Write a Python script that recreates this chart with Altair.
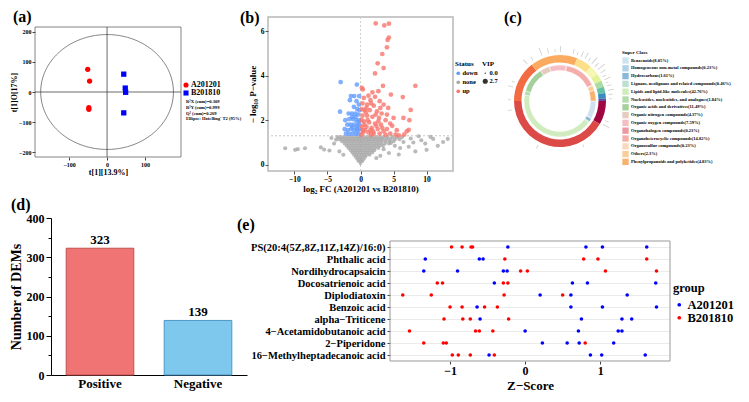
import json
import altair as alt
import pandas as pd

F = "Liberation Serif"

# ---------------- (a) OPLS-DA score plot ----------------
a_t1 = [-51, -46, -48, -48, 44, 48, 49, 44]
a_to1 = [75, 36, -52, -57, 59, 13, -1, -69]
a_group = ["A201201", "A201201", "A201201", "A201201",
           "B201810", "B201810", "B201810", "B201810"]
a_ell_rx, a_ell_ry = 175, 190
a_stats = "R²X (cum)=0.309\nR²Y (cum)=0.999\nQ² (cum)=0.269\nEllipse: Hotelling' T2 (95%)"
a_xdom = [-190, 195]
a_ydom = [-215, 215]

# ---------------- (b) volcano plot ----------------
up_pts = [(2.3, 6.34), (3.6, 6.25), (4.3, 6.33), (4.3, 5.71), (4.1, 5.6), (4.0, 5.27), (3.3, 4.97),
          (2.6, 4.55), (3.5, 4.34), (2.2, 4.1), (8.3, 3.54), (3.4, 3.54), (0.2, 3.45), (0.35, 3.38),
          (1.8, 3.25), (2.7, 3.3), (1.2, 3.1), (2.2, 3.05), (4.6, 3.15), (6.4, 3.04), (0.5, 3.0),
          (1.5, 2.9), (2.9, 2.85), (3.5, 2.7), (0.3, 2.75), (1.0, 2.7), (2.0, 2.65), (4.2, 2.55),
          (7.6, 2.46), (0.6, 2.45), (1.4, 2.45), (2.5, 2.4), (3.2, 2.3), (5.0, 2.1), (6.5, 2.1),
          (7.4, 2.0), (0.3, 2.2), (1.0, 2.2), (1.8, 2.15), (2.8, 2.1), (3.8, 2.0), (4.5, 1.85),
          (0.5, 1.95), (1.3, 1.9), (2.2, 1.85), (3.1, 1.8), (4.0, 1.6), (0.2, 1.7), (0.9, 1.7),
          (1.7, 1.65), (2.6, 1.6), (3.5, 1.5), (7.0, 1.5), (7.3, 1.57), (0.4, 1.45), (1.2, 1.45),
          (2.0, 1.4), (2.9, 1.4), (4.5, 1.4), (5.3, 1.35), (5.8, 1.32), (6.6, 1.35), (0.1, 1.35),
          (1.6, 1.35), (3.8, 1.35), (0.7, 1.55), (1.5, 1.55), (2.4, 1.75), (0.15, 2.0), (0.8, 2.35),
          (1.6, 2.75), (0.2, 2.5), (2.3, 2.25), (4.8, 1.75), (5.5, 1.55), (4.0, 2.25), (3.0, 2.55),
          (0.6, 1.8), (1.1, 2.0), (2.7, 1.95), (0.35, 1.55), (1.9, 1.5), (3.3, 1.65), (0.9, 2.55)]
down_pts = [(-3.0, 3.71), (-0.55, 3.6), (-1.45, 3.08), (-0.95, 3.08), (-0.2, 3.08), (-3.1, 2.38),
            (-1.6, 2.9), (-0.6, 2.85), (-0.25, 2.7), (-1.0, 2.6), (-0.5, 2.5), (-0.15, 2.45),
            (-1.8, 2.3), (-1.3, 2.3), (-0.8, 2.3), (-0.35, 2.25), (-2.3, 2.0), (-1.7, 2.05),
            (-1.15, 2.05), (-0.65, 2.0), (-0.2, 2.0), (-2.0, 1.8), (-1.5, 1.8), (-1.0, 1.8),
            (-0.5, 1.75), (-0.15, 1.8), (-2.4, 1.6), (-1.9, 1.55), (-1.4, 1.6), (-0.9, 1.55),
            (-0.45, 1.55), (-0.1, 1.6), (-2.2, 1.4), (-1.7, 1.38), (-1.2, 1.4), (-0.7, 1.38),
            (-0.3, 1.4), (-1.25, 2.15), (-0.75, 2.15), (-0.4, 1.9), (-1.25, 1.7), (-0.6, 1.65)]
sig_vip = 2.3
none_rows = [  # (y, vip, x positions)
    (0.05, 0.9, [0.0]),
    (0.15, 1.0, [-0.3, 0.0, 0.3]),
    (0.25, 1.1, [-0.5, -0.17, 0.17, 0.5]),
    (0.35, 1.2, [-0.75, -0.4, 0.0, 0.4, 0.75]),
    (0.45, 1.3, [-1.0, -0.6, -0.2, 0.2, 0.6, 1.0, 1.4]),
    (0.55, 1.35, [-1.25, -0.85, -0.45, 0.0, 0.45, 0.9, 1.35, 1.8]),
    (0.65, 1.4, [-1.5, -1.05, -0.6, -0.15, 0.3, 0.75, 1.2, 1.65, 2.1]),
    (0.75, 1.45, [-1.8, -1.3, -0.8, -0.3, 0.2, 0.7, 1.2, 1.7, 2.2, 2.7]),
    (0.85, 1.5, [-2.1, -1.6, -1.1, -0.6, -0.1, 0.4, 0.9, 1.4, 1.9, 2.4, 2.9, 3.4]),
    (0.95, 1.5, [-2.4, -1.9, -1.4, -0.9, -0.4, 0.1, 0.6, 1.1, 1.6, 2.1, 2.6, 3.1, 3.7, 4.3]),
    (1.05, 1.55, [-2.8, -2.3, -1.8, -1.3, -0.8, -0.3, 0.2, 0.7, 1.2, 1.7, 2.2, 2.7, 3.2, 3.8,
                  4.4, 5.0]),
    (1.15, 1.6, [-3.2, -2.7, -2.2, -1.7, -1.2, -0.7, -0.2, 0.3, 0.8, 1.3, 1.8, 2.3, 2.8, 3.3,
                 3.9, 4.5, 5.2, 5.9]),
    (1.24, 1.6, [-3.5, -3.0, -2.5, -2.0, -1.5, -1.0, -0.5, 0.0, 0.5, 1.0, 1.5, 2.0, 2.5, 3.0,
                 3.5, 4.1, 4.8, 5.5, 6.3]),
]
none_far = [(-11.4, 0.74), (-9.9, 0.67), (-9.5, 0.7), (-8.4, 0.74), (-6.0, 0.78), (-5.5, 0.68),
            (-4.7, 0.64), (-4.0, 0.95), (-3.7, 1.12), (-4.4, 1.2), (13.2, 1.16), (12.5, 1.02),
            (11.0, 1.16), (9.8, 0.95), (8.8, 1.28), (10.0, 0.67), (8.3, 0.6), (7.3, 0.81),
            (5.8, 0.46), (4.3, 0.53), (6.5, 1.02), (7.6, 1.18), (9.2, 1.1), (11.7, 0.85),
            (10.6, 1.25), (6.0, 0.75), (8.0, 1.0), (5.2, 0.85), (4.6, 0.98), (3.5, 0.7),
            (-3.2, 0.6), (-2.6, 0.45), (3.0, 0.4), (2.4, 0.3)]
far_vip = 1.7
p_cut = 1.3

# ---------------- (c) super class donut ----------------
c_classes = ["Benzenoids", "Homogeneous non-metal compounds", "Hydrocarbons",
             "Lignans, neolignans and related compounds", "Lipids and lipid-like molecules",
             "Nucleosides, nucleotides, and analogues", "Organic acids and derivatives",
             "Organic nitrogen compounds", "Organic oxygen compounds", "Organohalogen compounds",
             "Organoheterocyclic compounds", "Organosulfur compounds", "Others",
             "Phenylpropanoids and polyketides"]
c_pct = [8.05, 0.23, 1.61, 0.46, 42.76, 1.84, 11.49, 4.37, 7.59, 0.23, 14.82, 0.23, 2.3, 4.83]
c_colors = ["#c9e0ee", "#a6cde3", "#7db0d4", "#b5dcc9", "#cbe9b6", "#aad8a3", "#9bcb91",
            "#e3c5b8", "#f3b8be", "#ea8f96", "#f2a5a1", "#f8d5b7", "#f8c690", "#f6aa60"]
c_outer_vals = [30, 150, 52, 60, 20, 12, 10, 8, 8, 7, 3]
c_outer_cols = ["#a0063f", "#dc4a48", "#f26b43", "#fbab5f", "#fddf8a", "#f7f7b4", "#e4f29a",
                "#abdca4", "#66c2a5", "#3a8bbf", "#5e4fa2"]
c_tick_ang = [0, 354, 346, 338, 326, 318, 292, 286, 271, 259, 206, 152, 113, 118, 15, 20, 25,
              30, 35, 40, 45, 50, 55, 60, 64, 68, 72, 77, 82, 87]
c_tick_len = [6, 3, 5, 8, 4, 6, 3, 5, 3, 4, 4, 3, 4, 7, 5, 3, 6, 7, 4, 8, 5, 9, 6, 4, 7, 3, 5, 6, 4, 3]

# ---------------- (d) DEM counts ----------------
d_cat = ["Positive", "Negative"]
d_val = [323, 139]
d_fill = ["#f07474", "#7ec8ee"]
d_stroke = ["#c0504d", "#4f96c6"]

# ---------------- (e) Z-score dot plot ----------------
e_names = ["PS(20:4(5Z,8Z,11Z,14Z)/16:0)", "Phthalic acid", "Nordihydrocapsaicin",
           "Docosatrienoic acid", "Diplodiatoxin", "Benzoic acid", "alpha−Triticene",
           "4−Acetamidobutanoic acid", "2−Piperidone", "16−Methylheptadecanoic acid"]
e_A = [[-0.23, 0.81, 1.03, 1.62], [-1.33, -0.61, -0.56], [-1.35, -0.90, -0.29, -0.24],
       [-0.41, 0.63, 0.83, 1.74], [0.20, 0.61, 1.36], [-0.64, 0.61, 1.03, 1.75],
       [-0.60, 0.75, 1.29, 1.42], [0.0, 0.71, 1.24, 1.29], [0.23, 0.56, 0.72, 1.18],
       [-0.48, 0.87, 1.02, 1.60]]
e_B = [[-0.98, -0.84, -0.72, -0.70], [-0.27, 0.78, 0.97, 1.62], [-0.06, 0.03, 1.07, 1.75],
       [-1.17, -1.10, -0.29, -0.23], [-1.63, -1.25, -0.28, 0.50], [-1.0, -0.84, -0.54, -0.37],
       [-1.08, -0.83, -0.73, -0.22], [-1.54, -0.66, -0.61, -0.43], [-1.35, -1.09, -1.05, 0.80],
       [-0.97, -0.89, -0.73, -0.41]]
e_xdom = [-1.8, 1.93]


def label(txt, x, y, size=16):
    return alt.Chart(pd.DataFrame({"t": [txt]})).mark_text(
        align="left", baseline="alphabetic", font=F, fontWeight="bold", fontSize=size, color="black"
    ).encode(text="t:N", x=alt.value(x), y=alt.value(y))


# ======== panel (a) ========
AW, AH = 146, 140
ax_s = alt.Scale(domain=a_xdom, nice=False, zero=False)
ay_s = alt.Scale(domain=a_ydom, nice=False, zero=False, range=[AH, 10])
ax_a = alt.Axis(title="t[1][13.9%]", values=[-100, 0, 100], labelFontSize=6, titleFontSize=8,
                tickSize=3, domain=False, labelPadding=1, titlePadding=1, tickColor="#444")
ay_a = alt.Axis(title="t[1]O[17%]", values=[-200, -100, 0, 100, 200], labelFontSize=6,
                titleFontSize=8, tickSize=3, domain=False, labelPadding=1, titlePadding=0,
                tickColor="#444")

frame_a = alt.Chart(pd.DataFrame({"x0": [a_xdom[0]], "x1": [a_xdom[1]],
                                  "y0": [a_ydom[0]], "y1": [a_ydom[1]]})).mark_rect(
    fillOpacity=0, stroke="#666", strokeWidth=0.8).encode(
    x=alt.X("x0:Q", scale=ax_s, axis=ax_a), x2="x1:Q",
    y=alt.Y("y0:Q", scale=ay_s, axis=ay_a), y2="y1:Q")
vline_a = alt.Chart(pd.DataFrame({"x": [0], "y0": [a_ydom[0]], "y1": [a_ydom[1]]})).mark_rule(
    color="#444", strokeWidth=0.8).encode(
    x=alt.X("x:Q", scale=ax_s, axis=ax_a), y=alt.Y("y0:Q", scale=ay_s, axis=ay_a), y2="y1:Q")
hline_a = alt.Chart(pd.DataFrame({"y": [0], "x0": [a_xdom[0]], "x1": [a_xdom[1]]})).mark_rule(
    color="#444", strokeWidth=0.8).encode(
    y=alt.Y("y:Q", scale=ay_s, axis=ay_a), x=alt.X("x0:Q", scale=ax_s, axis=ax_a), x2="x1:Q")
ell_a = alt.Chart(alt.sequence(0, 362, 2, as_="deg")).transform_calculate(
    ex=f"{a_ell_rx}*cos(datum.deg*PI/180)", ey=f"{a_ell_ry}*sin(datum.deg*PI/180)"
).mark_line(color="#666", strokeWidth=0.8).encode(
    x=alt.X("ex:Q", scale=ax_s, axis=ax_a), y=alt.Y("ey:Q", scale=ay_s, axis=ay_a),
    order="deg:Q")
leg_a = alt.Legend(title=None, orient="none", legendX=AW + 1, legendY=64, labelFontSize=8,
                   symbolSize=26, rowPadding=0, labelOffset=1, symbolStrokeWidth=0)
pts_a = alt.Chart(pd.DataFrame({"t1": a_t1, "to1": a_to1, "group": a_group})).mark_point(
    filled=True, size=28, opacity=1).encode(
    x=alt.X("t1:Q", scale=ax_s, axis=ax_a), y=alt.Y("to1:Q", scale=ay_s, axis=ay_a),
    color=alt.Color("group:N", scale=alt.Scale(domain=["A201201", "B201810"],
                                               range=["#ff0000", "#0000ff"]), legend=leg_a),
    shape=alt.Shape("group:N", scale=alt.Scale(domain=["A201201", "B201810"],
                                               range=["circle", "square"]), legend=leg_a))
ann_a = alt.Chart(pd.DataFrame({"t": [a_stats]})).mark_text(
    align="left", baseline="middle", font=F, fontWeight="bold", fontSize=4.6, lineHeight=5.8,
    lineBreak="\n", color="black").encode(text="t:N", x=alt.value(AW + 5), y=alt.value(85))
panel_a = alt.layer(frame_a, ell_a, vline_a, hline_a, pts_a, ann_a, label("(a)", -22, 5)).properties(
    width=AW, height=AH)

# ======== panel (b) ========
BW, BH = 185, 154
rows_b = []
for yv, vip, xs in none_rows:
    for xv in xs:
        rows_b.append({"fc": xv, "p": yv, "vip": vip, "status": "none"})
for xv, yv in none_far:
    rows_b.append({"fc": xv, "p": yv, "vip": far_vip, "status": "none"})
for xv, yv in down_pts:
    rows_b.append({"fc": xv, "p": yv, "vip": sig_vip, "status": "down"})
for xv, yv in up_pts:
    rows_b.append({"fc": xv, "p": yv, "vip": sig_vip, "status": "up"})
dfb = pd.DataFrame(rows_b)
bx_s = alt.Scale(domain=[-14, 14], nice=False, zero=False)
by_s = alt.Scale(domain=[-0.28, 6.63], nice=False, zero=False)
bx_a = alt.Axis(title="log₂ FC (A201201 vs B201810)", values=[-10, -5, 0, 5, 10], labelFontSize=7.5,
                titleFontSize=9, tickSize=3, tickColor="#555", domain=False, labelPadding=1,
                titlePadding=2)
by_a = alt.Axis(title="− log₁₀ P−value", values=[0, 2, 4, 6], labelFontSize=7.5, titleFontSize=9,
                tickSize=3, tickColor="#555", domain=False, labelPadding=1, titlePadding=3)
hr_b = alt.Chart(pd.DataFrame({"y": [p_cut]})).mark_rule(
    color="#c8c8c8", strokeDash=[2, 2], strokeWidth=1).encode(y=alt.Y("y:Q", scale=by_s, axis=by_a))
vr_b = alt.Chart(pd.DataFrame({"x": [0]})).mark_rule(
    color="#d0d0d0", strokeDash=[2, 2], strokeWidth=1).encode(x=alt.X("x:Q", scale=bx_s, axis=bx_a))
pts_b = alt.Chart(dfb).mark_circle(opacity=0.8).encode(
    x=alt.X("fc:Q", scale=bx_s, axis=bx_a), y=alt.Y("p:Q", scale=by_s, axis=by_a),
    color=alt.Color("status:N", scale=alt.Scale(domain=["down", "none", "up"],
                                                range=["#619cff", "#a9a9a9", "#f8766d"]),
                    legend=alt.Legend(title="Status", orient="none", legendX=BW + 2, legendY=43,
                                      titleFontSize=7, labelFontSize=6.5, symbolSize=14,
                                      symbolType="circle", rowPadding=2, titlePadding=3,
                                      labelOffset=1, symbolOpacity=1)),
    size=alt.Size("vip:Q", scale=alt.Scale(domain=[0, 2.7], range=[2, 26]),
                  legend=alt.Legend(title="VIP", orient="none", legendX=BW + 29, legendY=43,
                                    values=[0, 2.7], format=".1f", titleFontSize=7,
                                    labelFontSize=6.5, symbolFillColor="black",
                                    symbolStrokeWidth=0, rowPadding=1, titlePadding=3,
                                    labelOffset=1)))
panel_b = alt.layer(hr_b, vr_b, pts_b, label("(b)", -28, 6)).properties(
    width=BW, height=BH, view=alt.ViewBackground(stroke="#b8b8b8", strokeWidth=1.5))

# ======== panel (c) ========
CW, CH = 76, 154
CX, CY = 20, 84
c_labels = [f"{n}({p:g}%)" for n, p in zip(c_classes, c_pct)]
dfc = pd.DataFrame({"cls": c_labels, "pct": c_pct, "ord": list(range(len(c_pct)))})
inner_c = alt.Chart(dfc).mark_arc(radius=36, radius2=30.5, stroke="white", strokeWidth=0.5,
                                  opacity=0.9).encode(
    theta=alt.Theta("pct:Q", stack=True, scale=alt.Scale(range=[1.5708, 7.854], nice=False)),
    color=alt.Color("cls:N", scale=alt.Scale(domain=c_labels, range=c_colors),
                    legend=alt.Legend(title="Super Class", orient="none", legendX=82, legendY=33,
                                      titleFontSize=5, labelFontSize=4.5, symbolType="square",
                                      symbolSize=40, rowPadding=0.8, titlePadding=2,
                                      labelOffset=2, symbolStrokeWidth=0, labelLimit=0)),
    order=alt.Order("ord:Q"), x=alt.value(CX), y=alt.value(CY))
dfo = pd.DataFrame({"v": c_outer_vals, "col": c_outer_cols, "ord": list(range(len(c_outer_vals)))})
outer_c = alt.Chart(dfo).mark_arc(radius=46, radius2=38.5).encode(
    theta=alt.Theta("v:Q", stack=True, scale=alt.Scale(range=[1.5708, 7.854], nice=False)),
    fill=alt.Fill("col:N", scale=None, legend=None), order=alt.Order("ord:Q"),
    x=alt.value(CX), y=alt.value(CY))
dft = pd.DataFrame({"a": c_tick_ang, "len": c_tick_len})
ticks_c = alt.Chart(dft).transform_calculate(a2="datum.a + 0.9").mark_arc(color="#cfcfcf").encode(
    theta=alt.Theta("a:Q", scale=alt.Scale(domain=[0, 360], range=[0, 6.2832])),
    theta2="a2:Q",
    radius=alt.Radius("len:Q", scale=alt.Scale(type="linear", domain=[0, 12], range=[49, 61],
                                                zero=False)),
    radius2=alt.value(49), x=alt.value(CX), y=alt.value(CY))
panel_c = alt.layer(ticks_c, outer_c, inner_c, label("(c)", -36, 6)).resolve_scale(
    theta="independent", color="independent").properties(width=CW, height=CH)

# ======== panel (d) ========
DOFF = 16
DW, DH = 196 + DOFF, 157
dfd = pd.DataFrame({"cat": d_cat, "n": d_val})
dx = alt.X("cat:N", sort=d_cat,
           scale=alt.Scale(paddingInner=0.31, paddingOuter=0.155, range=[DOFF, DW]),
           axis=alt.Axis(title=None, labelAngle=0, labelFontSize=13, ticks=False,
                         domainColor="black", domainWidth=1, labelPadding=2))
dy = alt.Y("n:Q", scale=alt.Scale(domain=[0, 400], nice=False),
           axis=alt.Axis(title="Number of DEMs", values=list(range(0, 401, 50)),
                         labelExpr="datum.value % 100 === 0 ? datum.label : ''",
                         tickSize={"condition": {"test": "datum.value % 100 === 0", "value": 5},
                                   "value": 3},
                         labelFontSize=12, titleFontSize=14, domainColor="black", domainWidth=1,
                         tickColor="black", labelPadding=2, titlePadding=3, offset=-DOFF))
bars_d = alt.Chart(dfd).mark_bar(strokeWidth=1).encode(
    x=dx, y=dy,
    color=alt.Color("cat:N", scale=alt.Scale(domain=d_cat, range=d_fill), legend=None),
    stroke=alt.Stroke("cat:N", scale=alt.Scale(domain=d_cat, range=d_stroke), legend=None))
txt_d = alt.Chart(dfd).mark_text(baseline="bottom", dy=-1, font=F, fontWeight="bold",
                                 fontSize=13, color="black").encode(x=dx, y=dy, text="n:Q")
panel_d = alt.layer(bars_d, txt_d, label("(d)", DOFF - 40, -8)).properties(width=DW, height=DH)

# ======== panel (e) ========
EW, EH = 280, 143
rows_e = []
for i, name in enumerate(e_names):
    idx = len(e_names) - i
    for v in e_A[i]:
        rows_e.append({"idx": idx, "z": v, "group": "A201201"})
    for v in e_B[i]:
        rows_e.append({"idx": idx, "z": v, "group": "B201810"})
dfe = pd.DataFrame(rows_e)
names_bt = list(reversed(e_names))
ex_s = alt.Scale(domain=e_xdom, nice=False, zero=False)
ey_s = alt.Scale(domain=[0.5, 10.5], nice=False, zero=False, range=[EH, 23])
ex_a = alt.Axis(title="Z−Score", values=[-1, 0, 1], labelFontSize=12, titleFontSize=13, tickSize=3,
                tickColor="#444", domain=False, labelPadding=1, titlePadding=3)
ey_a = alt.Axis(title=None, values=list(range(1, 11)),
                labelExpr=json.dumps(names_bt, ensure_ascii=False) + "[datum.value - 1]",
                grid=True, gridColor="#e6e6e6", gridWidth=0.8, tickSize=3, tickColor="#444",
                domain=False, labelFontSize=10.5, labelPadding=2, labelLimit=0)
frame_e = alt.Chart(pd.DataFrame({"x0": [e_xdom[0]], "x1": [e_xdom[1]], "y0": [0.5],
                                  "y1": [10.5]})).mark_rect(
    fillOpacity=0, stroke="#999", strokeWidth=1).encode(
    x=alt.X("x0:Q", scale=ex_s, axis=ex_a), x2="x1:Q",
    y=alt.Y("y0:Q", scale=ey_s, axis=ey_a), y2="y1:Q")
pts_e = alt.Chart(dfe).mark_circle(size=13, opacity=1).encode(
    x=alt.X("z:Q", scale=ex_s, axis=ex_a), y=alt.Y("idx:Q", scale=ey_s, axis=ey_a),
    color=alt.Color("group:N", scale=alt.Scale(domain=["A201201", "B201810"],
                                               range=["#0000ff", "#ff0000"]),
                    legend=alt.Legend(title="group", orient="none", legendX=EW + 3, legendY=64,
                                      titleFontSize=12.5, labelFontSize=12.5, symbolSize=14,
                                      symbolType="circle", rowPadding=0, titlePadding=4,
                                      labelOffset=2)))
panel_e = alt.layer(frame_e, pts_e, label("(e)", -153, 12)).properties(width=EW, height=EH)

IND = dict(color="independent", shape="independent", size="independent",
           stroke="independent", fill="independent")
LIND = dict(color="independent", shape="independent", size="independent")
top = alt.HConcatChart(hconcat=[panel_a, panel_b, panel_c], spacing=87, bounds="flush"
                       ).resolve_scale(**IND).resolve_legend(**LIND)
bottom = alt.HConcatChart(hconcat=[panel_d, panel_e], spacing=143, bounds="flush"
                          ).resolve_scale(**IND).resolve_legend(**LIND)

chart = alt.ConcatChart(concat=[top, bottom], columns=1, align="none", spacing=2
                        ).resolve_scale(**IND).resolve_legend(**LIND).properties(
    padding={"left": 1, "right": 1, "top": 1, "bottom": 1}
).configure(font=F).configure_view(strokeWidth=0).configure_axis(
    labelFont=F, titleFont=F, labelFontWeight="bold", titleFontWeight="bold",
    labelColor="black", titleColor="black", grid=False
).configure_legend(
    labelFont=F, titleFont=F, labelFontWeight="bold", titleFontWeight="bold",
    labelColor="black", titleColor="black"
)

chart.save("out.html", embed_options={"renderer": "svg", "actions": False})
